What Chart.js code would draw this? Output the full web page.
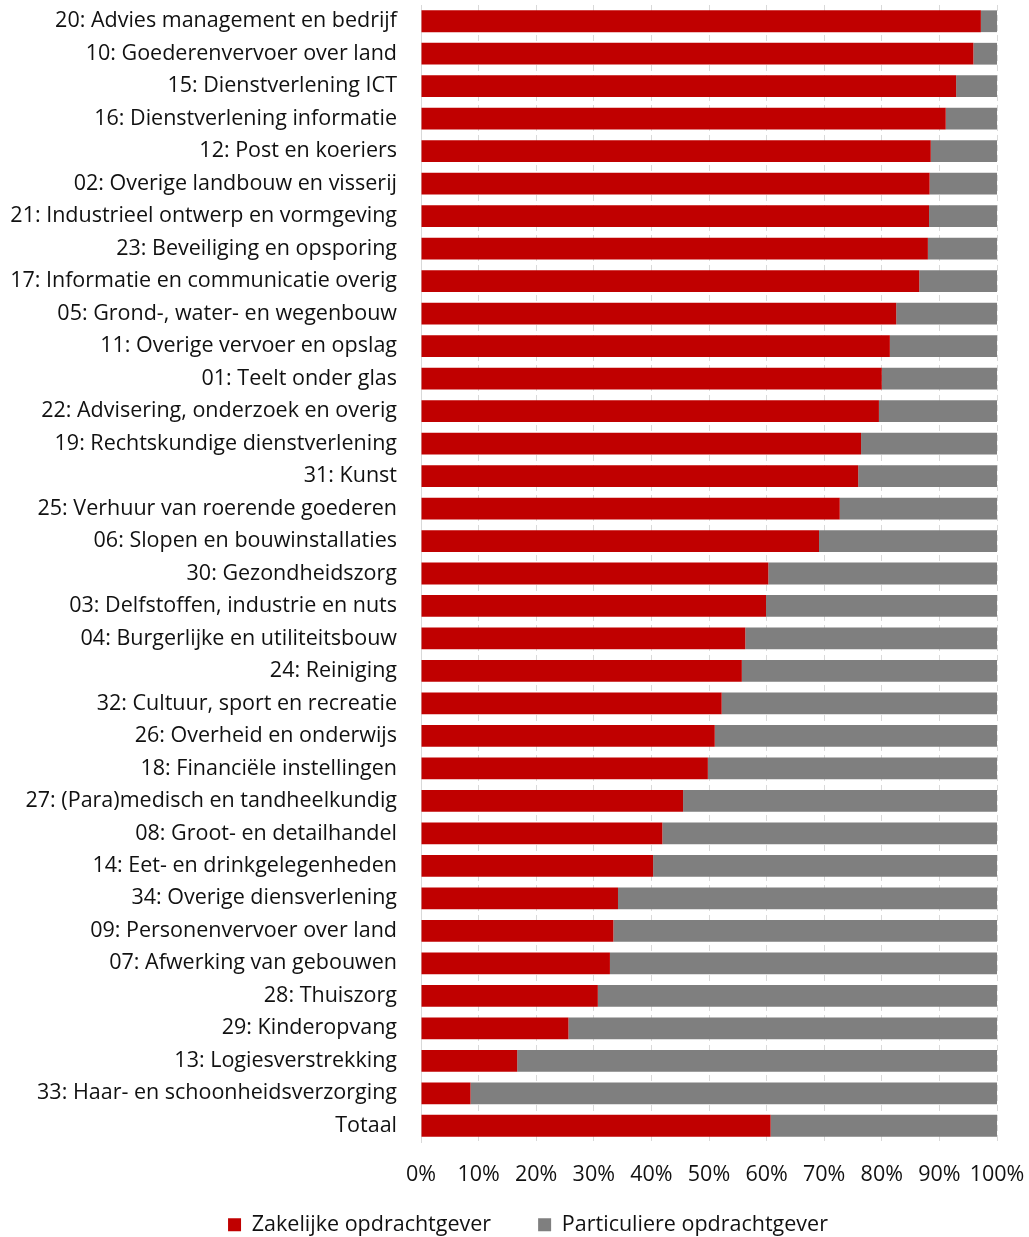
<!DOCTYPE html>
<html>
<head>
<meta charset="utf-8">
<script src="https://cdn.jsdelivr.net/npm/chart.js@4.4.0/dist/chart.umd.min.js"></script>
<style>
  html, body { margin: 0; padding: 0; background: #fff; }
  #wrap { width: 1029px; height: 1237px; }
</style>
</head>
<body>
<div id="wrap"><canvas id="myChart" width="1029" height="1237"></canvas></div>
<script>
const categorieen = [
  '20: Advies management en bedrijf',
  '10: Goederenvervoer over land',
  '15: Dienstverlening ICT',
  '16: Dienstverlening informatie',
  '12: Post en koeriers',
  '02: Overige landbouw en visserij',
  '21: Industrieel ontwerp en vormgeving',
  '23: Beveiliging en opsporing',
  '17: Informatie en communicatie overig',
  '05: Grond-, water- en wegenbouw',
  '11: Overige vervoer en opslag',
  '01: Teelt onder glas',
  '22: Advisering, onderzoek en overig',
  '19: Rechtskundige dienstverlening',
  '31: Kunst',
  '25: Verhuur van roerende goederen',
  '06: Slopen en bouwinstallaties',
  '30: Gezondheidszorg',
  '03: Delfstoffen, industrie en nuts',
  '04: Burgerlijke en utiliteitsbouw',
  '24: Reiniging',
  '32: Cultuur, sport en recreatie',
  '26: Overheid en onderwijs',
  '18: Financiële instellingen',
  '27: (Para)medisch en tandheelkundig',
  '08: Groot- en detailhandel',
  '14: Eet- en drinkgelegenheden',
  '34: Overige diensverlening',
  '09: Personenvervoer over land',
  '07: Afwerking van gebouwen',
  '28: Thuiszorg',
  '29: Kinderopvang',
  '13: Logiesverstrekking',
  '33: Haar- en schoonheidsverzorging',
  'Totaal'
];

const zakelijk = [
  97.2, 95.9, 92.9, 91.1, 88.5, 88.3, 88.2, 88.0, 86.5, 82.5,
  81.4, 80.0, 79.5, 76.4, 75.9, 72.7, 69.1, 60.3, 59.9, 56.3,
  55.7, 52.2, 51.0, 49.8, 45.5, 41.9, 40.3, 34.2, 33.4, 32.8,
  30.7, 25.6, 16.7, 8.6, 60.7
];

const particulier = [
  2.8, 4.1, 7.1, 8.9, 11.5, 11.7, 11.8, 12.0, 13.5, 17.5,
  18.6, 20.0, 20.5, 23.6, 24.1, 27.3, 30.9, 39.7, 40.1, 43.7,
  44.3, 47.8, 49.0, 50.2, 54.5, 58.1, 59.7, 65.8, 66.6, 67.2,
  69.3, 74.4, 83.3, 91.4, 39.3
];

const xTicks = [0, 10, 20, 30, 40, 50, 60, 70, 80, 90, 100];

const fontFam = "'Open Sans', 'Noto Sans', sans-serif";
const fontSize = 21.5;
const tekstKleur = '#111';

// legenda: vaste hoogte, bovenkant iets omhoog en iets naar rechts
const legendaPlek = {
  id: 'legendaPlek',
  beforeInit(chart) {
    const lg = chart.legend;
    if (!lg) return;
    const origFit = lg.fit;
    lg.fit = function () {
      origFit.call(this);
      this.height = 49;
    };
  },
  afterLayout(chart) {
    const lg = chart.legend;
    if (!lg) return;
    lg.top -= 21;
    lg.height += 21;
    lg.left += 25;
    lg.right += 25;
  }
};

const ctx = document.getElementById('myChart');

new Chart(ctx, {
  type: 'bar',
  data: {
    labels: categorieen,
    datasets: [
      {
        label: 'Zakelijke opdrachtgever',
        data: zakelijk,
        backgroundColor: '#c00000',
        borderWidth: 0,
        barPercentage: 0.67,
        categoryPercentage: 1.0
      },
      {
        label: 'Particuliere opdrachtgever',
        data: particulier,
        backgroundColor: '#7f7f7f',
        borderWidth: 0,
        barPercentage: 0.67,
        categoryPercentage: 1.0
      }
    ]
  },
  plugins: [legendaPlek],
  options: {
    indexAxis: 'y',
    responsive: false,
    animation: false,
    layout: { padding: { left: 9, right: 32, top: 5, bottom: 0 } },
    plugins: {
      tooltip: { enabled: false },
      legend: {
        position: 'bottom',
        labels: {
          color: tekstKleur,
          font: { family: fontFam, size: fontSize },
          boxWidth: 13,
          boxHeight: 13,
          padding: 47
        }
      }
    },
    scales: {
      x: {
        stacked: true,
        min: 0,
        max: 100,
        afterBuildTicks: function (scale) {
          scale.ticks = xTicks.map(v => ({ value: v }));
        },
        afterFit: function (scale) {
          scale.height = 46;
          scale.paddingLeft = 0;
          scale.paddingRight = 0;
        },
        ticks: {
          color: tekstKleur,
          font: { family: fontFam, size: fontSize },
          padding: 20,
          maxRotation: 0,
          autoSkip: false,
          callback: v => v + '%'
        },
        grid: { color: '#d9d9d9', lineWidth: 1, drawTicks: false },
        border: { display: false, dash: [6, 4] }
      },
      y: {
        stacked: true,
        afterFit: function (scale) {
          scale.width = 412;
          scale.paddingTop = 0;
          scale.paddingBottom = 0;
        },
        ticks: {
          color: tekstKleur,
          font: { family: fontFam, size: fontSize },
          padding: 24,
          autoSkip: false
        },
        grid: { display: false, drawTicks: false },
        border: { display: true, color: '#d9d9d9', width: 1 }
      }
    }
  }
});
</script>
</body>
</html>
